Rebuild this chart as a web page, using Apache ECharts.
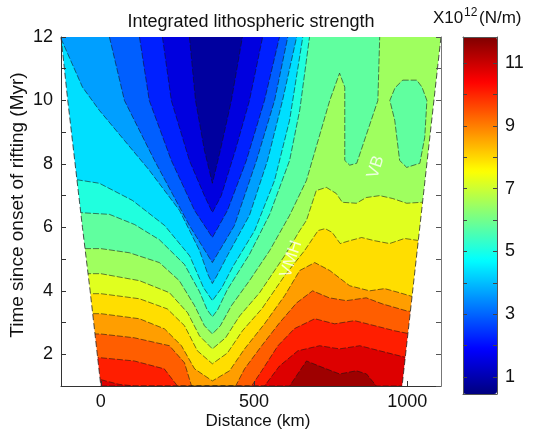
<!DOCTYPE html>
<html><head><meta charset="utf-8">
<script src="https://cdn.jsdelivr.net/npm/echarts@6/dist/echarts.min.js"></script>
<style>html,body{margin:0;padding:0;background:#fff}#c{width:541px;height:432px}</style>
</head><body><div id="c"></div>
<script>
// ---- data (distance in km, time in Myr, strength in 10^12 N/m) ----
const xTicks = [0, 500, 1000];
const yTickLabels = [2, 4, 6, 8, 10, 12];
const cbarLabels = [1, 3, 5, 7, 9, 11];
const cbarTicks = [1, 2, 3, 4, 5, 6, 7, 8, 9, 10, 11];
const strengthMin = 0.46, strengthMax = 11.83;
// contour levels
const levels = [0.46, 1.17, 1.88, 2.59, 3.30, 4.01, 4.73, 5.44, 6.15, 6.86, 7.58, 8.29, 9.00, 9.71, 10.43, 11.14, 11.83];
// model domain edges [km, Myr]
const leftEdge = [[-130, 12], [-108, 10], [-84, 8], [-60, 6], [-35, 4], [0, 1]];
const rightEdge = [[1110, 12], [983, 1]];
// contour lines: cK separates the band below level K (above the line) from the band above it
const c1 = [[289,12],[309,10.0],[338,8.43],[364,7.39],[390,8.43],[426,10.0],[462,12]];
const c2 = [[201,12],[230,10.0],[289,8.11],[338,7.0],[364,6.47],[393,7.0],[439,8.43],[485,10.0],[528,12]];
const c3 = [[126,12],[158,10.0],[230,8.11],[306,6.53],[364,5.68],[413,6.53],[475,8.11],[534,10.0],[583,12]];
const c4 = [[28,12],[77,10.0],[175,8.11],[289,6.06],[364,4.89],[436,6.06],[508,8.11],[567,10.0],[610,12]];
const c5 = [[-130,11.95],[-60,10.42],[-5,9.69],[77,8.74],[158,7.8],[257,6.53],[322,5.27],[350,4.5],[364,4.23],[380,4.5],[413,5.11],[485,6.38],[544,8.11],[593,10.0],[639,12]];
const c6 = [[-130,7.58],[-5,7.39],[103,6.85],[208,6.06],[290,5.1],[335,4.1],[364,3.69],[395,4.1],[430,4.75],[502,5.9],[567,7.48],[616,9.38],[659,12]];
const c7 = [[-130,6.5],[28,6.41],[110,6.09],[191,5.61],[273,4.83],[322,3.97],[347,3.4],[364,3.18],[381,3.4],[413,4.04],[485,5.15],[551,6.41],[616,8.11],[649,9.69],[681,12]];
const c8 = [[-130,5.33],[0,5.33],[93,5.2],[191,4.89],[256,4.32],[306,3.53],[338,2.9],[364,2.64],[390,2.9],[426,3.53],[485,4.32],[551,5.27],[616,6.38],[671,7.48],[747,10.0],[779,10.86],[796,10.42],[796,8.11],[812,7.96],[835,8.02],[904,10.0],[910,12]];
const c9 = [[-130,4.54],[0,4.54],[126,4.32],[224,3.94],[283,3.31],[322,2.58],[364,2.17],[407,2.52],[453,3.21],[518,3.94],[600,5.11],[649,5.9],[671,6.22],[703,7.16],[736,7.26],[768,7.07],[788,6.79],[834,6.76],[866,6.94],[910,7.0],[952,6.91],[998,6.76],[1047,6.79],[1110,6.85]];
const c10 = [[-130,3.91],[0,3.91],[126,3.75],[217,3.43],[273,2.9],[315,2.11],[364,1.7],[413,2.04],[462,2.74],[525,3.43],[600,4.48],[665,5.27],[709,5.9],[732,5.96],[755,5.84],[781,5.49],[812,5.58],[851,5.68],[893,5.58],[942,5.49],[991,5.65],[1041,5.58],[1110,5.49]];
const c11 = [[-130,3.28],[0,3.28],[126,3.12],[208,2.8],[263,2.27],[306,1.54],[364,1.16],[420,1.48],[469,2.17],[534,2.96],[600,3.85],[649,4.64],[698,4.89],[747,4.64],[812,4.16],[877,4.0],[926,4.07],[975,3.94],[1041,3.75],[1110,3.62]];
const c12 = [[-130,2.64],[0,2.64],[109,2.52],[224,2.27],[273,1.73],[296,1.0],[440,1.0],[469,1.54],[525,2.27],[583,2.99],[639,3.62],[691,4.0],[745,3.78],[801,3.69],[866,3.78],[918,3.59],[997,3.37],[1110,3.21]];
const c13 = [[-130,1.89],[0,1.89],[109,1.79],[207,1.54],[250,1.0],[492,1.0],[525,1.48],[578,2.27],[632,2.81],[698,3.12],[763,2.96],[828,3.06],[894,2.9],[959,2.74],[1041,2.58],[1110,2.48]];
const c14 = [[-130,1.2],[0,1.2],[60,1.05],[110,1.0],[534,1.0],[583,1.63],[643,2.11],[714,2.27],[779,2.17],[845,2.27],[910,2.11],[975,1.95],[1041,1.79],[1110,1.73]];
const c15 = [[-130,1],[616,1],[671,1.79],[725,1.58],[779,1.38],[834,1.48],[867,1.38],[899,1],[1110,1]];
// closed contour (island below level 8)
const island8 = [[985,10.64],[1031,10.64],[1048,10.42],[1064,10.0],[1057,8.84],[1041,8.02],[998,7.89],[975,8.11],[959,9.38],[943,10.0],[960,10.4],[985,10.64]];
// annotations
const annotations = [{name: 'VMH', value: [621, 5.0]}, {name: 'VB', value: [897, 7.9]}];

// ---- build ----
const xMin = -130, xMax = 1110, yMin = 1, yMax = 12;
const contours = [null, c1, c2, c3, c4, c5, c6, c7, c8, c9, c10, c11, c12, c13, c14, c15];
const islands = [{level: 8, pts: island8}];
const polys = [{pts: [[xMin,yMin],[xMax,yMin],[xMax,yMax],[xMin,yMax]], band: 15}];
for (let k = 15; k >= 1; k--) {
  const c = contours[k];
  polys.push({pts: c.concat([[c[c.length-1][0], yMax], [c[0][0], yMax]]), band: k - 1});
  islands.filter(d => d.level === k).forEach(d => polys.push({pts: d.pts, band: k - 1}));
}
const bandValue = b => (levels[b] + levels[b + 1]) / 2;
const lines = contours.slice(1).concat(islands.map(d => d.pts));
const masks = [
  [[xMin, yMax]].concat(leftEdge).concat([[xMin, yMin]]),
  [[xMax, yMax]].concat(rightEdge).concat([[xMax, yMin]])
];
const edges = [leftEdge, rightEdge];
const jet = ['#00007F','#0000FF','#007FFF','#00FFFF','#7FFF7F','#FFFF00','#FF7F00','#FF0000','#7F0000'];
const font = '"Liberation Sans", Arial, sans-serif';
const axisColor = '#333';

const chart = echarts.init(document.getElementById('c'), null, {renderer: 'canvas', width: 541, height: 432});
const option = {
  animation: false,
  textStyle: {fontFamily: font},
  grid: [
    {left: 61, top: 37, width: 380, height: 349},
    {left: 463, top: 37, width: 34, height: 357}
  ],
  xAxis: [
    {type: 'value', gridIndex: 0, min: xMin, max: xMax, z: 10,
     axisLine: {onZero: false, lineStyle: {color: axisColor, width: 1}},
     axisTick: {inside: true, length: 5, customValues: xTicks, lineStyle: {color: axisColor}},
     axisLabel: {customValues: xTicks, formatter: v => String(v), fontSize: 18, color: '#111', fontFamily: font, margin: 7},
     splitLine: {show: false}},
    {type: 'value', gridIndex: 1, min: 0, max: 1, z: 10, axisLine: {show: true, onZero: false, lineStyle: {color: '#555'}},
     axisTick: {show: false}, axisLabel: {show: false}, splitLine: {show: false}},
    {type: 'value', gridIndex: 1, position: 'top', min: 0, max: 1, z: 10, axisLine: {show: true, onZero: false, lineStyle: {color: '#555'}},
     axisTick: {show: false}, axisLabel: {show: false}, splitLine: {show: false}}
  ],
  yAxis: [
    {type: 'value', gridIndex: 0, min: yMin, max: yMax, interval: 1, z: 10,
     axisLine: {show: true, onZero: false, lineStyle: {color: axisColor}},
     axisTick: {show: true, inside: true, length: 5, lineStyle: {color: axisColor}},
     axisLabel: {fontSize: 18, color: '#111', fontFamily: font, margin: 8,
                 formatter: v => yTickLabels.indexOf(v) >= 0 ? String(v) : ''},
     splitLine: {show: false}},
    {type: 'value', gridIndex: 0, position: 'right', min: yMin, max: yMax, interval: 1, z: 10,
     axisLine: {show: true, onZero: false, lineStyle: {color: '#777'}},
     axisTick: {show: true, inside: true, length: 5, lineStyle: {color: '#555'}},
     axisLabel: {show: false}, splitLine: {show: false}},
    {type: 'value', gridIndex: 1, position: 'right', min: strengthMin, max: strengthMax, z: 10,
     axisLine: {show: true, onZero: false, lineStyle: {color: '#555'}},
     axisTick: {show: true, inside: true, length: 4, customValues: cbarTicks, lineStyle: {color: '#444'}},
     axisLabel: {customValues: cbarLabels, fontSize: 18, color: '#111', fontFamily: font, margin: 8},
     splitLine: {show: false}},
    {type: 'value', gridIndex: 1, position: 'left', min: strengthMin, max: strengthMax, z: 10,
     axisLine: {show: true, onZero: false, lineStyle: {color: '#555'}},
     axisTick: {show: true, inside: true, length: 4, customValues: cbarTicks, lineStyle: {color: '#444'}},
     axisLabel: {show: false}, splitLine: {show: false}}
  ],
  visualMap: {
    type: 'continuous', min: strengthMin, max: strengthMax, dimension: 1, seriesIndex: 0,
    orient: 'vertical', left: 463, top: 37, itemWidth: 34, itemHeight: 357, padding: 0,
    calculable: false, hoverLink: false, inRange: {color: jet}
  },
  series: [
    {type: 'custom', name: 'fill', coordinateSystem: 'cartesian2d', xAxisIndex: 0, yAxisIndex: 0, silent: true,
     data: polys.map((p, i) => [i, bandValue(p.band)]),
     renderItem: (params, api) => ({
       type: 'polygon',
       shape: {points: polys[params.dataIndex].pts.map(q => api.coord(q))},
       style: {fill: api.visual('color')}
     })},
    {type: 'custom', name: 'lines', coordinateSystem: 'cartesian2d', xAxisIndex: 0, yAxisIndex: 0, silent: true,
     data: lines.map((l, i) => [i, 0]),
     renderItem: (params, api) => ({
       type: 'polyline',
       shape: {points: lines[params.dataIndex].map(q => api.coord(q))},
       style: {stroke: 'rgba(20,20,20,0.7)', lineWidth: 0.8, lineDash: [6, 2], fill: null}
     })},
    {type: 'custom', name: 'mask', coordinateSystem: 'cartesian2d', xAxisIndex: 0, yAxisIndex: 0, silent: true,
     data: masks.map((m, i) => [i, 0]),
     renderItem: (params, api) => ({
       type: 'polygon',
       shape: {points: masks[params.dataIndex].map(q => api.coord(q))},
       style: {fill: '#fff'}
     })},
    {type: 'custom', name: 'edges', coordinateSystem: 'cartesian2d', xAxisIndex: 0, yAxisIndex: 0, silent: true,
     data: edges.map((m, i) => [i, 0]),
     renderItem: (params, api) => ({
       type: 'polyline',
       shape: {points: edges[params.dataIndex].map(q => api.coord(q))},
       style: {stroke: 'rgba(30,30,30,0.85)', lineWidth: 0.9, lineDash: [6, 3], fill: null}
     })},
    {type: 'scatter', name: 'labels', xAxisIndex: 0, yAxisIndex: 0, silent: true, z: 20,
     symbolSize: 2, itemStyle: {color: 'rgba(0,0,0,0)'},
     data: annotations,
     label: {show: true, position: 'inside', formatter: '{b}', rotate: 72, color: '#fff',
             fontSize: 17, fontFamily: font}}
  ],
  graphic: [
    {type: 'text', x: 251, y: 22, style: {text: 'Integrated lithospheric strength', font: '18px ' + font, fill: '#111', align: 'center', verticalAlign: 'middle'}},
    {type: 'text', x: 258, y: 421, style: {text: 'Distance (km)', font: '17px ' + font, fill: '#111', align: 'center', verticalAlign: 'middle'}},
    {type: 'text', x: 18, y: 205, rotation: Math.PI / 2, style: {text: 'Time since onset of rifting (Myr)', font: '19px ' + font, fill: '#111', align: 'center', verticalAlign: 'middle'}},
    {type: 'text', x: 433, y: 27, style: {text: 'X10', font: '17px ' + font, fill: '#111', align: 'left', verticalAlign: 'bottom'}},
    {type: 'text', x: 464, y: 19, style: {text: '12', font: '12px ' + font, fill: '#111', align: 'left', verticalAlign: 'bottom'}},
    {type: 'text', x: 479, y: 27, style: {text: '(N/m)', font: '17px ' + font, fill: '#111', align: 'left', verticalAlign: 'bottom'}}
  ]
};
chart.setOption(option);
</script>
</body></html>
